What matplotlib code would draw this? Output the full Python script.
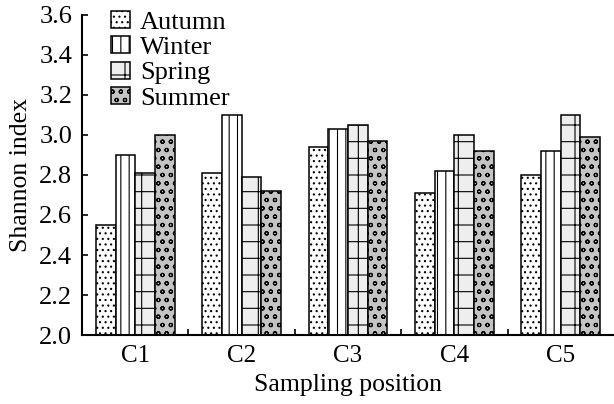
import numpy as np
import matplotlib as mpl
mpl.use("agg")
import matplotlib.pyplot as plt

plt.rcParams["font.family"] = ["Liberation Serif", "DejaVu Serif"]
plt.rcParams["hatch.linewidth"] = 0.8

positions = ["C1", "C2", "C3", "C4", "C5"]
seasons = ["Autumn", "Winter", "Spring", "Summer"]
autumn = [2.55, 2.81, 2.94, 2.71, 2.80]
winter = [2.90, 3.10, 3.03, 2.82, 2.92]
spring = [2.81, 2.79, 3.05, 3.00, 3.10]
summer = [3.00, 2.72, 2.97, 2.92, 2.99]

series = [autumn, winter, spring, summer]
styles = [
    dict(facecolor="white", hatch="..."),
    dict(facecolor="white", hatch="||"),
    dict(facecolor="#eeeeee", hatch="+"),
    dict(facecolor="#c4c4c4", hatch="oo"),
]

fig = plt.figure(figsize=(6.14, 4.04), dpi=100)
ax = fig.add_axes([82 / 614, 69 / 404, 532 / 614, 320 / 404])

x = np.arange(len(positions))
width = 0.185
for i, (vals, name, st) in enumerate(zip(series, seasons, styles)):
    ax.bar(x + (i - 1.5) * width, np.array(vals) - 2.0, width, bottom=2.0,
           edgecolor="black", linewidth=1.1, label=name, **st)

ax.set_xlim(-0.5, len(positions) - 0.5)
ax.set_ylim(2.0, 3.6)
ax.set_yticks(np.arange(2.0, 3.61, 0.2))
ax.set_yticklabels([f"{v:.1f}" for v in np.arange(2.0, 3.61, 0.2)])
ax.set_xticks(x)
ax.set_xticklabels(positions)
ax.set_xticks(np.arange(0.5, len(positions) - 0.5, 1.0), minor=True)
ax.tick_params(axis="x", which="major", length=0, pad=7, labelsize=18)
ax.tick_params(axis="x", which="minor", direction="in", length=4, width=1.2)
ax.tick_params(axis="y", direction="in", length=4, width=1.2, labelsize=19, pad=7)

for side in ["top", "right"]:
    ax.spines[side].set_visible(False)
for side in ["left", "bottom"]:
    ax.spines[side].set_linewidth(1.5)

ax.set_xlabel("Sampling position", fontsize=18.5, labelpad=5)
ax.set_ylabel("Shannon index", fontsize=18.5, labelpad=5)

ax.legend(loc="upper left", bbox_to_anchor=(0.035, 1.045), frameon=False,
          fontsize=19, handlelength=0.7, handleheight=0.6, handletextpad=0.4,
          labelspacing=0.1, borderaxespad=0)

fig.savefig("out.png", dpi=100)
